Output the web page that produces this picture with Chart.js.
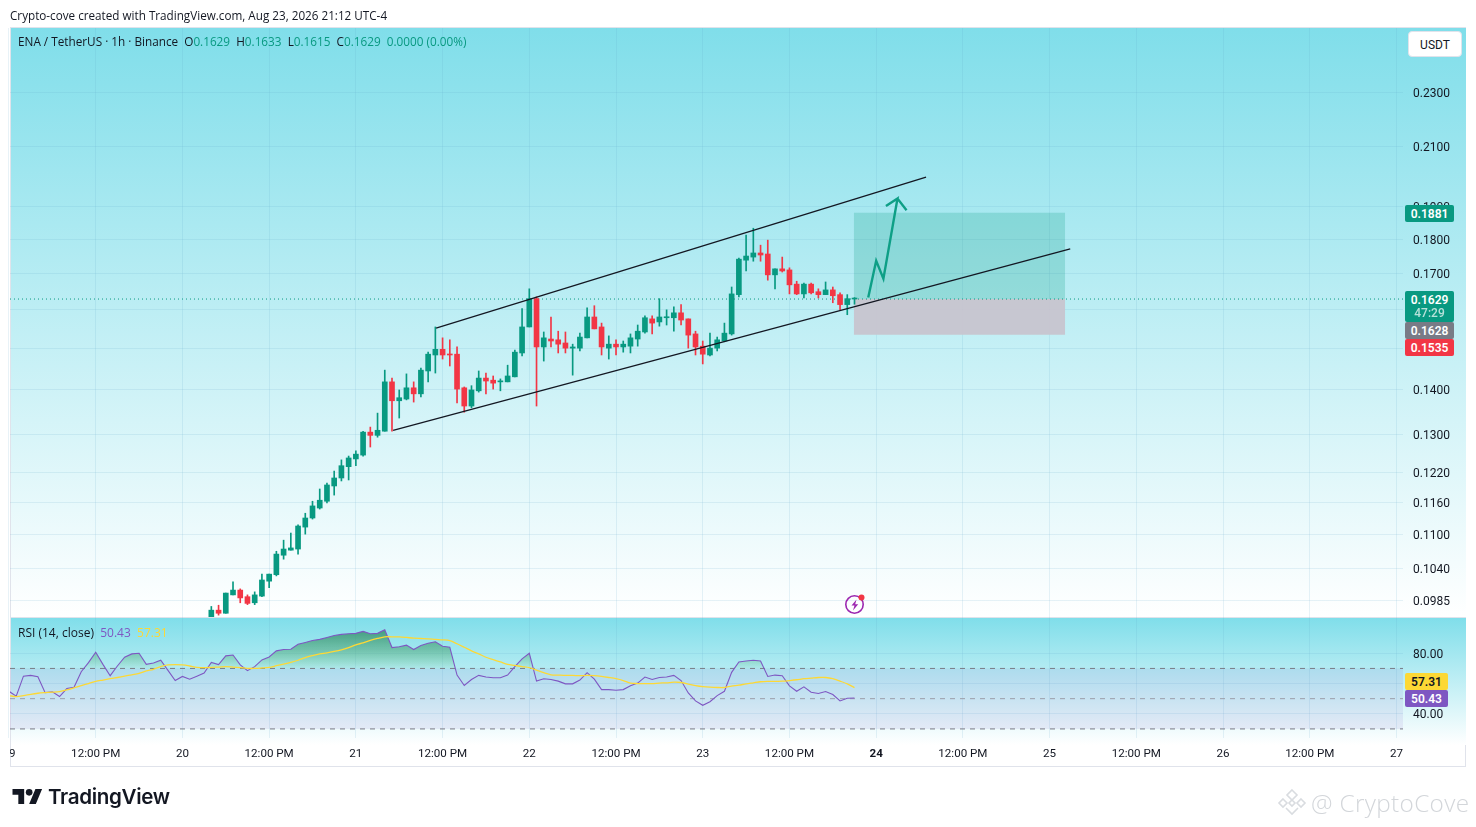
<!DOCTYPE html>
<html><head><meta charset="utf-8"><title>ENA / TetherUS</title>
<script src="https://cdn.jsdelivr.net/npm/chart.js@4/dist/chart.umd.js"></script>
<style>
html,body{margin:0;padding:0;background:#fff;width:1476px;height:827px;overflow:hidden;font-family:"Open Sans","Liberation Sans",sans-serif;color:#131722}
.a{position:absolute;white-space:nowrap}
#c{position:absolute;left:0;top:0;z-index:2}
.tag{position:absolute;color:#fff;font:600 12px/18px Roboto,sans-serif;text-align:center;border-radius:2px;z-index:3}
.ov{z-index:4}
</style></head><body>
<div class="a" style="left:10px;top:27px;width:1456px;height:740px;box-sizing:border-box;border:1px solid #e0e3eb"></div>
<div class="a" style="left:11px;top:28px;width:1455px;height:589px;background:linear-gradient(#80deea,#fff)"></div>
<div class="a" style="left:11px;top:617px;width:1455px;height:1px;background:#e0e3eb"></div>
<div class="a" style="left:11px;top:618px;width:1455px;height:127px;background:linear-gradient(#80deea,#fff)"></div>
<canvas id="c" width="1476" height="827"></canvas>
<div class="a ov" style="left:0;top:740px;width:10px;height:26px;background:#fff"></div>
<div class="a ov" style="left:10px;top:6px;font-size:11.7px;line-height:18px">Crypto-cove created with TradingView.com, Aug 23, 2026 21:12 UTC-4</div>
<div class="a ov" id="hdr" style="left:18px;top:32px;font-size:11.75px;line-height:18px"></div>
<div class="a ov" id="rsiLeg" style="left:18px;top:624px;font-size:12px;line-height:18px"></div>
<div class="a ov" style="left:1408px;top:31px;width:54px;height:26px;background:#fff;border:1px solid #e0e3eb;box-sizing:border-box;border-radius:4px;text-align:center;font:12px/26px Roboto,sans-serif">USDT</div>
<div id="tags"></div>
<svg class="a ov" style="left:843px;top:592px" width="26" height="26" viewBox="0 0 26 26"><circle cx="11.5" cy="12.5" r="8.7" fill="none" stroke="#9c27b0" stroke-width="1.6"/><path d="M13.5 7.5L8.5 13.5h3l-1.5 5 5.2-6.2h-3z" fill="#9c27b0"/><circle cx="18.5" cy="5.5" r="3" fill="#f23645"/></svg>
<svg class="a ov" style="left:12px;top:789px" width="31" height="15" viewBox="0 4 36 18"><path d="M14 22H7V11H0V4h14v18zM28 22h-8l7.5-18h8L28 22z" fill="#131722"/><circle cx="20" cy="8" r="4" fill="#131722"/></svg>
<div class="a ov" style="left:48px;top:783px;font:600 20.6px/28px Inter,sans-serif;letter-spacing:-.35px;color:#131722">TradingView</div>
<svg class="a ov" style="left:1277px;top:788px" width="30" height="30" viewBox="0 0 30 30"><g fill="none" stroke="#d9dce0" stroke-width="1.6"><path d="M15 2l5 5-5 5-5-5z"/><path d="M6 11l4 4-4 4-4-4z"/><path d="M24 11l4 4-4 4-4-4z"/><path d="M15 12l3 3-3 3-3-3z"/><path d="M9 20l6 6 6-6"/></g></svg>
<div class="a ov" style="left:1311px;top:785px;font:300 24.3px/36px 'Open Sans',sans-serif;color:#d3d6da;letter-spacing:.35px">@ CryptoCove</div>
<script>
// ---- data ----
const firstCandleHour = 28; // hours after the "19" day tick
const open = [.0956,.0970,.0965,.0995,.1003,.0992,.0982,.0993,.1018,.1029,.1063,.1072,.1074,.1114,.1131,.1150,.1163,.1193,.1209,.1232,.1248,.1256,.1305,.1298,.1307,.1419,.1375,.1379,.1405,.1391,.1445,.1484,.1498,.1486,.1486,.1405,.1363,.1398,.1428,.1423,.1419,.1419,.1431,.1489,.1555,.1630,.1504,.1524,.1522,.1514,.1501,.1501,.1527,.1581,.1555,.1501,.1511,.1504,.1506,.1524,.1542,.1576,.1568,.1579,.1579,.1592,.1576,.1537,.1506,.1484,.1501,.1519,.1537,.1641,.1738,.1747,.1759,.1756,.1696,.1713,.1710,.1670,.1643,.1670,.1649,.1641,.1654,.1641,.1614,.1629];
const high = [.0976,.0978,.0998,.1017,.1005,.0995,.1000,.1030,.1030,.1070,.1090,.1103,.1118,.1140,.1163,.1187,.1199,.1223,.1246,.1254,.1265,.1307,.1316,.1347,.1447,.1428,.1400,.1438,.1419,.1452,.1491,.1555,.1527,.1522,.1504,.1407,.1410,.1445,.1440,.1433,.1426,.1459,.1496,.1603,.1657,.1635,.1542,.1581,.1544,.1542,.1511,.1539,.1605,.1611,.1565,.1532,.1522,.1519,.1537,.1560,.1584,.1584,.1630,.1600,.1608,.1614,.1576,.1544,.1519,.1539,.1529,.1565,.1662,.1744,.1812,.1833,.1782,.1797,.1713,.1747,.1716,.1678,.1673,.1673,.1657,.1676,.1662,.1646,.1641,.1633];
const low = [.0953,.0962,.0965,.0995,.0982,.0979,.0979,.0992,.1007,.1027,.1056,.1072,.1065,.1101,.1129,.1148,.1160,.1175,.1203,.1205,.1234,.1254,.1273,.1294,.1307,.1307,.1336,.1377,.1372,.1384,.1419,.1440,.1474,.1457,.1370,.1349,.1359,.1395,.1391,.1402,.1398,.1419,.1431,.1482,.1555,.1363,.1469,.1504,.1489,.1489,.1435,.1494,.1527,.1550,.1484,.1474,.1484,.1491,.1489,.1506,.1539,.1537,.1557,.1560,.1544,.1560,.1501,.1484,.1462,.1482,.1494,.1517,.1534,.1635,.1707,.1735,.1735,.1681,.1657,.1704,.1643,.1641,.1632,.1643,.1632,.1641,.1619,.1600,.1587,.1615];
const close = [.0970,.0965,.0998,.1003,.0990,.0981,.0995,.1020,.1030,.1065,.1074,.1076,.1116,.1131,.1154,.1165,.1195,.1209,.1234,.1250,.1258,.1305,.1298,.1309,.1419,.1375,.1382,.1405,.1391,.1447,.1486,.1498,.1484,.1484,.1402,.1363,.1400,.1428,.1421,.1416,.1421,.1433,.1491,.1555,.1630,.1504,.1527,.1519,.1511,.1501,.1504,.1529,.1581,.1550,.1504,.1511,.1504,.1511,.1527,.1544,.1579,.1565,.1581,.1581,.1592,.1573,.1534,.1504,.1486,.1501,.1522,.1539,.1643,.1741,.1750,.1759,.1753,.1696,.1713,.1707,.1668,.1643,.1670,.1646,.1641,.1654,.1638,.1614,.1630,.1629];
const rsi = [54.9,51.6,64.9,65.4,64.5,54.0,54.5,51.4,56.7,57.6,67.8,73.8,80.7,72.7,65.2,71.6,77.4,79.6,80.0,72.7,73.6,75.4,68.7,62.0,64.7,62.9,64.9,66.9,74.0,72.5,78.3,78.9,72.3,68.5,71.2,75.6,77.6,81.6,82.5,82.7,86.0,87.2,88.5,89.2,90.5,91.8,92.5,92.9,93.2,94.5,92.9,93.2,95.6,83.8,84.3,85.4,82.5,85.2,86.7,87.6,84.7,84.0,65.6,58.7,62.7,65.4,64.3,63.8,63.8,65.6,71.2,76.3,80.0,61.6,63.2,62.7,61.6,59.8,59.8,62.3,67.2,62.9,56.0,56.0,55.6,56.0,58.5,60.3,64.3,62.7,64.0,64.3,65.4,62.0,53.8,48.5,45.6,48.0,52.0,54.9,67.4,74.3,74.9,75.4,74.9,64.7,65.6,65.2,58.5,54.9,57.8,54.3,53.4,54.7,52.7,48.5,50.3,50.43];
const rsiMa = [52.0,51.4,52.0,52.9,53.6,54.0,54.3,54.7,55.8,57.2,58.7,60.0,61.4,62.3,63.2,64.0,64.9,65.8,66.7,68.3,69.4,71.2,72.3,72.5,72.3,71.6,70.7,70.5,70.7,70.9,71.2,70.9,70.5,70.0,70.0,70.3,70.7,71.8,72.9,74.0,75.4,77.2,78.5,79.6,80.3,81.2,82.3,83.8,85.6,86.9,88.5,89.8,90.9,90.9,90.9,90.5,90.0,89.8,89.6,89.2,88.9,88.3,86.3,84.0,81.6,79.6,77.4,75.8,74.3,72.7,72.0,71.2,70.5,68.9,67.2,65.8,65.6,65.4,65.4,65.2,65.4,65.2,64.7,64.0,63.2,62.0,60.3,60.0,60.0,60.0,60.3,60.5,60.9,60.7,59.6,58.7,58.0,57.6,57.4,57.4,58.3,58.9,59.8,60.5,61.2,61.4,61.4,61.6,62.0,62.5,63.2,63.6,64.0,64.0,63.2,61.6,59.8,57.31];
const priceTicks = [.23,.21,.19,.18,.17,.16,.15,.14,.13,.122,.116,.11,.104,.0985];
const rsiTicks = [80,60,40];
const rsiBands = [70,50,30];
const dayLabels = ["19","20","21","22","23","24","25","26","27"];
const noonLabel = "12:00 PM";
const lastPrice = .1629, lastLine = .1629, tp = .1881, entry = .1628, stop = .1535;
const boxHours = [116.9,146.15];
const upperChannelH = [59.1,126.9], upperChannelP = [.1552,.1996];
const lowerChannelH = [53.15,146.85], lowerChannelP = [.1309,.1771];
const arrowH = [118.9,120,121,122.95,121.35,122.95,124.2];
const arrowP = [.1633,.1736,.1685,.1926,.1902,.1926,.1889];
const xRange = [.14,192.9];
const priceRange = [.0959,.2559];
const rsiRange = [24,104];
const UP = "#089981", DOWN = "#f23645", PURPLE = "#7e57c2", GOLD = "#fdd835", TICK = "#131722";
// ---- overlay text ----
const f = v => v.toFixed(4);
document.getElementById('hdr').innerHTML = 'ENA / TetherUS · 1h · Binance&nbsp; ' +
 [['O',open.at(-1)],['H',high.at(-1)],['L',low.at(-1)],['C',close.at(-1)]].map(p=>`${p[0]}<span style="color:${UP}">${f(p[1])}</span>`).join('&nbsp; ') +
 `&nbsp; <span style="color:${UP}">0.0000 (0.00%)</span>`;
document.getElementById('rsiLeg').innerHTML = `RSI (14, close)&nbsp; <span style="color:${PURPLE}">${rsi.at(-1).toFixed(2)}</span>&nbsp; <span style="color:${GOLD}">${rsiMa.at(-1).toFixed(2)}</span>`;
const tagDefs = [
 [1405,205,49,17,UP,'#fff',f(tp)],
 [1405,291,49,31,UP,'#fff',f(lastPrice)+'<br><span style="opacity:.7;font-weight:500;line-height:13px;display:block;margin-top:-2px">47:29</span>'],
 [1405,322,49,17,'#787b86','#fff',f(entry)],
 [1405,339,49,17,DOWN,'#fff',f(stop)],
 [1405,673,43,17,GOLD,'#131722',rsiMa.at(-1).toFixed(2)],
 [1405,690,43,17,PURPLE,'#fff',rsi.at(-1).toFixed(2)]
];
document.getElementById('tags').innerHTML = tagDefs.map(t=>`<div class="tag" style="left:${t[0]}px;top:${t[1]}px;width:${t[2]}px;height:${t[3]}px;background:${t[4]};color:${t[5]}">${t[6]}</div>`).join('');
// ---- chart ----
const hourOf = i => firstCandleHour + i;
const colorAt = i => close[i] >= open[i] ? UP : DOWN;
const colors = open.map((_,i)=>colorAt(i));
const wicks = open.map((_,i)=>({x:hourOf(i), y:[low[i],high[i]]}));
const bodies = open.map((_,i)=>({x:hourOf(i), y:[Math.min(open[i],close[i]),Math.max(open[i],close[i])]}));
const pts = (xs,ys)=>xs.map((x,i)=>({x,y:ys[i]}));
const hLine = (y,a,b)=>[{x:a,y},{x:b,y}];
const canvas = document.getElementById('c');
const ctx = canvas.getContext('2d');
const obGrad = ctx.createLinearGradient(0,628,0,669);
obGrad.addColorStop(0,'rgba(45,135,95,.8)');
obGrad.addColorStop(.55,'rgba(70,160,110,.5)');
obGrad.addColorStop(1,'rgba(76,175,80,.03)');
const base = {type:'line',pointRadius:0,pointHoverRadius:0,fill:false,parsing:true,xAxisID:'x'};
const grid = {color:'rgba(95,165,200,.14)',lineWidth:1,drawTicks:false};
const datasets = [
 {...base,yAxisID:'y',order:30,data:hLine(tp,...boxHours),borderWidth:0,fill:{value:lastLine},backgroundColor:'rgba(8,153,129,.22)'},
 {...base,yAxisID:'y',order:30,data:hLine(stop,...boxHours),borderWidth:0,fill:{value:lastLine},backgroundColor:'rgba(200,195,205,.92)'},
 {type:'bar',xAxisID:'x',yAxisID:'y',order:10,data:wicks,backgroundColor:colors,barThickness:1,grouped:false},
 {type:'bar',xAxisID:'x',yAxisID:'y',order:9,data:bodies,backgroundColor:colors,barThickness:5,grouped:false,minBarLength:1},
 {...base,yAxisID:'y',order:25,data:hLine(lastPrice,...xRange),borderColor:UP,borderWidth:1,borderDash:[1,3]},
 {...base,yAxisID:'y',order:5,data:pts(upperChannelH,upperChannelP),borderColor:'#131722',borderWidth:1.3},
 {...base,yAxisID:'y',order:5,data:pts(lowerChannelH,lowerChannelP),borderColor:'#131722',borderWidth:1.3},
 {...base,yAxisID:'y',order:4,data:pts(arrowH,arrowP),borderColor:'#0e9f86',borderWidth:2.4,borderJoinStyle:'miter'},
 {...base,yAxisID:'yRsi',order:40,data:hLine(rsiBands[0],...xRange),borderColor:'#787b86',borderWidth:1,borderDash:[5,5],fill:{value:rsiBands[2]},backgroundColor:'rgba(126,87,194,.1)'},
 {...base,yAxisID:'yRsi',order:39,data:hLine(rsiBands[1],...xRange),borderColor:'#9a9da8',borderWidth:1,borderDash:[5,5]},
 {...base,yAxisID:'yRsi',order:39,data:hLine(rsiBands[2],...xRange),borderColor:'#787b86',borderWidth:1,borderDash:[5,5]},
 {...base,yAxisID:'yRsi',order:8,data:rsi.map((v,i)=>({x:i,y:v})),borderColor:PURPLE,borderWidth:1.1,fill:{target:{value:rsiBands[0]},above:obGrad,below:'rgba(0,0,0,0)'}},
 {...base,yAxisID:'yRsi',order:7,data:rsiMa.map((v,i)=>({x:i,y:v})),borderColor:GOLD,borderWidth:1.3,tension:.3}
];
const xTicks = [];
dayLabels.forEach((d,i)=>{ xTicks.push({value:i*24,label:d}); if(i<dayLabels.length-1) xTicks.push({value:i*24+12,label:noonLabel}); });
new Chart(ctx,{
 type:'bar',
 data:{datasets},
 options:{
  responsive:false,animation:false,devicePixelRatio:1,
  layout:{padding:{left:10,right:10,top:28,bottom:60}},
  plugins:{legend:{display:false},title:{display:false},tooltip:{enabled:false}},
  events:[],
  scales:{
   x:{type:'linear',position:'bottom',min:xRange[0],max:xRange[1],offset:false,
      grid:{...grid,offset:false},border:{display:false},
      afterBuildTicks:s=>{s.ticks=xTicks.map(t=>({value:t.value}));},
      afterFit:s=>{s.height=29;s.paddingLeft=0;s.paddingRight=0;},
      ticks:{autoSkip:false,maxRotation:0,minRotation:0,padding:9,color:TICK,
        font:c=>({family:'Roboto, sans-serif',size:11.6,weight:c.tick&&c.tick.value===120?'bold':'normal'}),
        callback:v=>{const t=xTicks.find(k=>k.value===v);return t?t.label:'';}}},
   y:{type:'logarithmic',position:'right',stack:'panes',stackWeight:589,weight:1,min:priceRange[0],max:priceRange[1],
      grid,border:{display:false},
      afterBuildTicks:s=>{s.ticks=priceTicks.map(v=>({value:v}));},
      afterFit:s=>{s.width=63;},
      ticks:{autoSkip:false,padding:10,labelOffset:1.5,color:TICK,font:{family:'Roboto, sans-serif',size:12},callback:v=>(+v).toFixed(4)}},
   yRsi:{type:'linear',position:'right',stack:'panes',stackWeight:121,weight:2,min:rsiRange[0],max:rsiRange[1],
      grid,border:{display:false},
      afterBuildTicks:s=>{s.ticks=rsiTicks.map(v=>({value:v}));},
      afterFit:s=>{s.width=63;},
      ticks:{autoSkip:false,padding:10,labelOffset:1.5,color:TICK,font:{family:'Roboto, sans-serif',size:12},callback:v=>(+v).toFixed(2)}}
  }
 }
});
</script>
</body></html>
